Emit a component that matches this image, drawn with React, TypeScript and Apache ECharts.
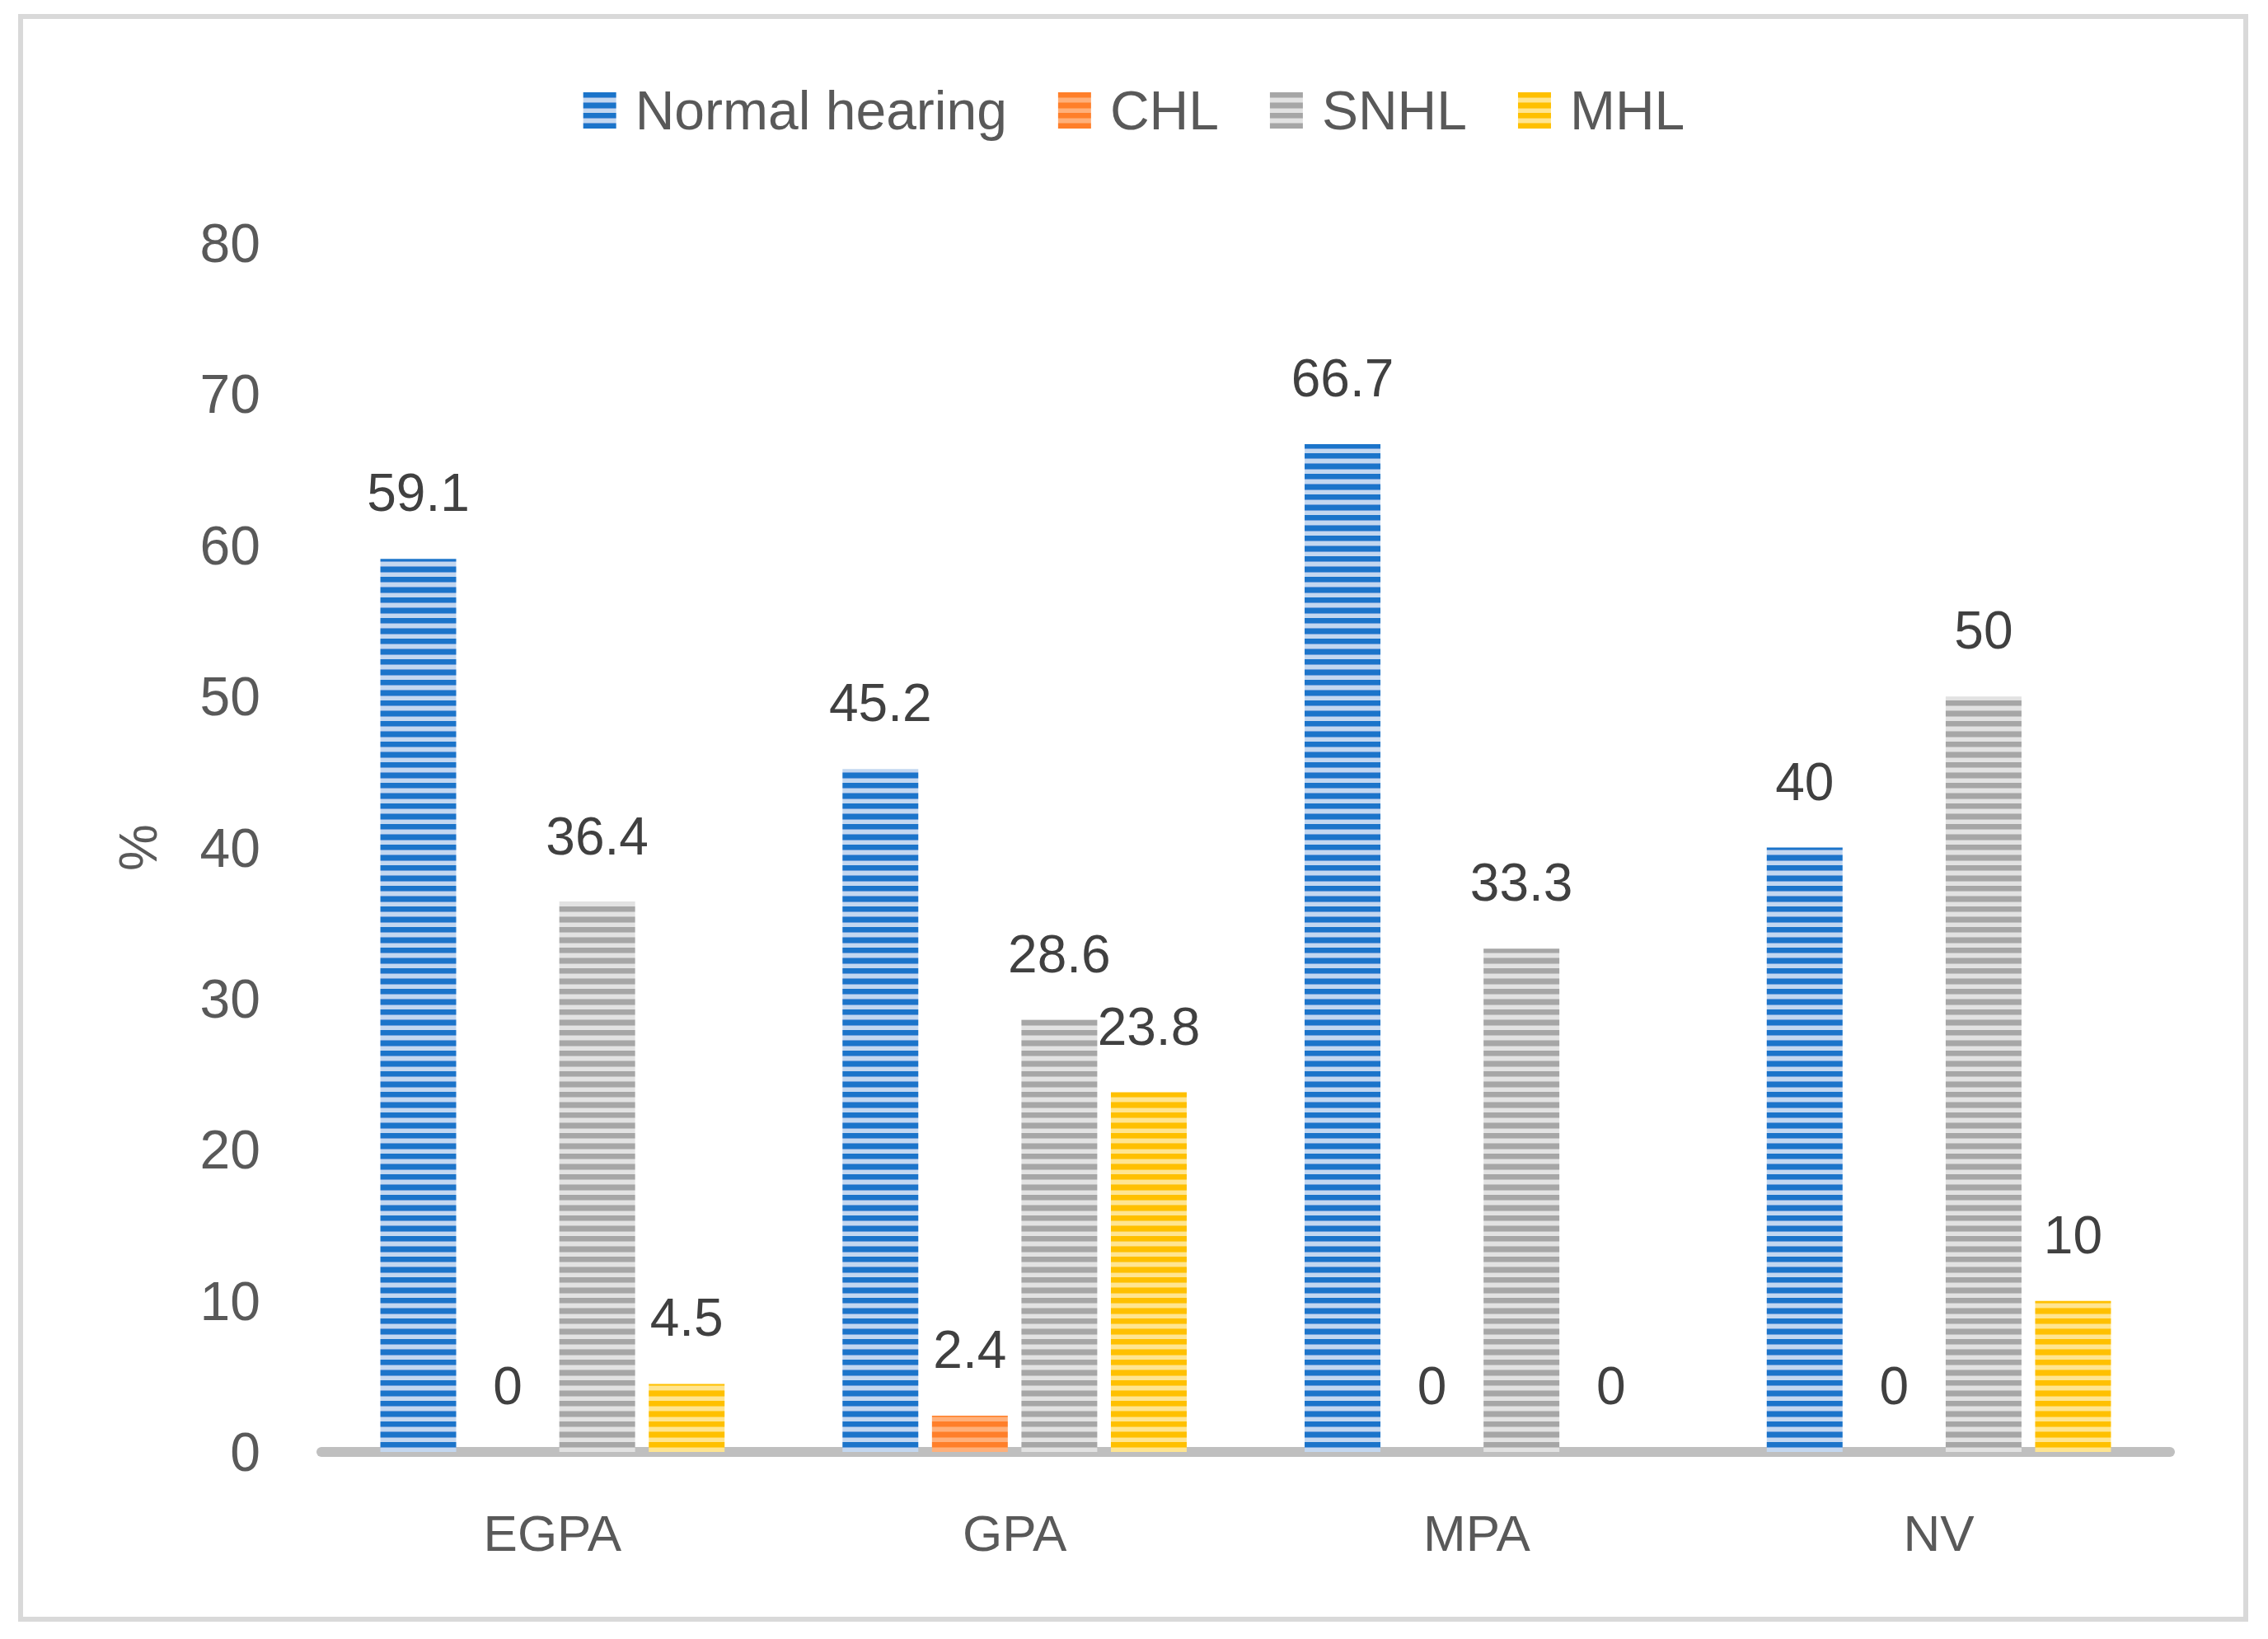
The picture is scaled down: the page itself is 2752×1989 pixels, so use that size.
import React, { useEffect, useRef } from "react";
import * as echarts from "echarts";

const categories = ["EGPA", "GPA", "MPA", "NV"];
const seriesNames = ["Normal hearing", "CHL", "SNHL", "MHL"];
const normalHearing = [59.1, 45.2, 66.7, 40];
const chl = [0, 2.4, 0, 0];
const snhl = [36.4, 28.6, 33.3, 50];
const mhl = [4.5, 23.8, 0, 10];
const yTicks = [0, 10, 20, 30, 40, 50, 60, 70, 80];

const stripeColors = [
  { dark: "#1B74CA", mid: "#6E9FDC", light: "#C3D7F0" },
  { dark: "#FF7F2A", mid: "#FF9850", light: "#FFB07A" },
  { dark: "#A6A6A6", mid: "#C2C2C2", light: "#E2E2E2" },
  { dark: "#FFC000", mid: "#FFD040", light: "#FFE590" },
];

function makeStripes(c: { dark: string; mid: string; light: string }) {
  const cv = document.createElement("canvas");
  cv.width = 4;
  cv.height = 25;
  const ctx = cv.getContext("2d")!;
  const rows: [string, number][] = [
    [c.dark, 6],
    [c.mid, 1],
    [c.light, 5],
    [c.mid, 1],
    [c.dark, 6],
    [c.mid, 1],
    [c.light, 5],
  ];
  let y = 0;
  for (const [col, h] of rows) {
    ctx.fillStyle = col;
    ctx.fillRect(0, y, 4, h);
    y += h;
  }
  return { image: cv, repeat: "repeat", imageWidth: 4, imageHeight: 25 } as any;
}

export default function App() {
  const ref = useRef<HTMLDivElement>(null);
  useEffect(() => {
    document.body.style.margin = "0";
    if (!ref.current) return;
    const chart = echarts.init(ref.current, null, { renderer: "svg" });
    const font = "'Liberation Sans', Arial, sans-serif";
    const values = [normalHearing, chl, snhl, mhl];
    const series = seriesNames.map((name, i) => ({
      name,
      type: "bar",
      data: values[i],
      barWidth: 92,
      barGap: "18%",
      itemStyle: { color: makeStripes(stripeColors[i]) },
      label: {
        show: true,
        position: "top",
        distance: 48,
        color: "#404040",
        fontSize: 64,
        fontFamily: font,
      },
    }));
    chart.setOption({
      animation: false,
      backgroundColor: "#ffffff",
      graphic: [
        {
          type: "rect",
          shape: { x: 25, y: 20, width: 2700, height: 1945 },
          style: { fill: "none", stroke: "#D9D9D9", lineWidth: 6 },
          silent: true,
        },
      ],
      legend: {
        top: 96,
        left: "center",
        icon: "rect",
        itemWidth: 40,
        itemHeight: 44,
        itemGap: 62,
        data: seriesNames,
        textStyle: {
          color: "#595959",
          fontSize: 66,
          fontFamily: font,
          padding: [0, 0, 0, 18],
        },
      },
      grid: { left: 390, right: 119, top: 295, bottom: 227 },
      xAxis: {
        type: "category",
        data: categories,
        offset: 6,
        axisLine: { show: true, lineStyle: { color: "#BFBFBF", width: 12 } },
        axisTick: { show: false },
        axisLabel: {
          color: "#595959",
          fontSize: 62,
          fontFamily: font,
          margin: 61,
        },
        splitLine: { show: false },
      },
      yAxis: {
        type: "value",
        min: yTicks[0],
        max: yTicks[yTicks.length - 1],
        interval: 10,
        name: "%",
        nameLocation: "middle",
        nameRotate: 90,
        nameGap: 190,
        nameTextStyle: { color: "#595959", fontSize: 64, fontFamily: font },
        axisLine: { show: false },
        axisTick: { show: false },
        splitLine: { show: false },
        axisLabel: {
          color: "#595959",
          fontSize: 66,
          fontFamily: font,
          margin: 74,
        },
      },
      series,
    });
    return () => chart.dispose();
  }, []);
  return <div ref={ref} style={{ width: 2752, height: 1989 }} />;
}
